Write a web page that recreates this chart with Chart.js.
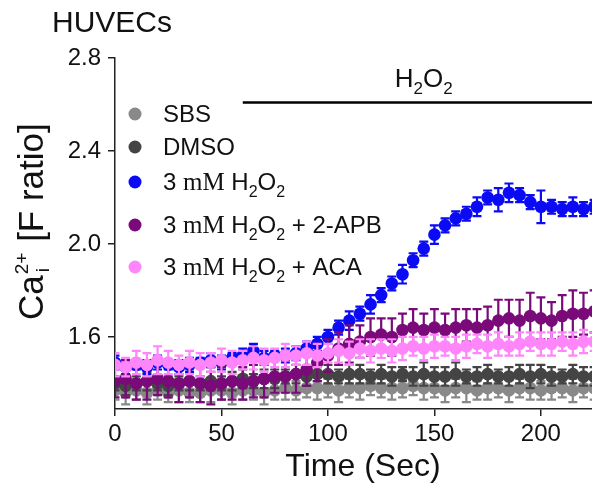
<!DOCTYPE html>
<html>
<head>
<meta charset="utf-8">
<script src="https://cdn.jsdelivr.net/npm/chart.js@4.4.1/dist/chart.umd.min.js"></script>
<style>
  html, body { margin: 0; padding: 0; background: #fff; }
</style>
</head>
<body>
<canvas id="chart" width="592" height="491"></canvas>
<script>
// time points (s)
const time = [0, 5, 10, 15, 20, 25, 30, 35, 40, 45,
  50, 55, 60, 65, 70, 75, 80, 85, 90, 95,
  100, 105, 110, 115, 120, 125, 130, 135, 140, 145,
  150, 155, 160, 165, 170, 175, 180, 185, 190, 195,
  200, 205, 210, 215, 220, 225];

const seriesLabels = ["SBS", "DMSO", "3 mM H₂O₂", "3 mM H₂O₂ + 2-APB", "3 mM H₂O₂ + ACA"];
const seriesColors = ["#898989", "#444444", "#0a0af5", "#7a0a7a", "#ff85fa"];

// mean F ratio
const sbs = [1.37, 1.36, 1.37, 1.36, 1.37, 1.36, 1.37, 1.36, 1.36, 1.37,
  1.37, 1.36, 1.37, 1.37, 1.36, 1.37, 1.38, 1.37, 1.38, 1.38,
  1.38, 1.37, 1.38, 1.38, 1.39, 1.38, 1.38, 1.38, 1.39, 1.38,
  1.38, 1.37, 1.38, 1.38, 1.37, 1.38, 1.38, 1.37, 1.38, 1.38,
  1.37, 1.38, 1.38, 1.37, 1.38, 1.38];
const dmso = [1.40, 1.39, 1.40, 1.41, 1.40, 1.39, 1.40, 1.41, 1.40, 1.41,
  1.40, 1.41, 1.42, 1.41, 1.42, 1.42, 1.43, 1.44, 1.43, 1.44,
  1.44, 1.43, 1.44, 1.44, 1.43, 1.44, 1.43, 1.44, 1.43, 1.44,
  1.43, 1.43, 1.44, 1.43, 1.43, 1.44, 1.43, 1.43, 1.44, 1.43,
  1.44, 1.43, 1.43, 1.44, 1.43, 1.43];
const h2o2 = [1.49, 1.47, 1.48, 1.47, 1.49, 1.48, 1.47, 1.48, 1.49, 1.50,
  1.49, 1.51, 1.52, 1.54, 1.51, 1.52, 1.52, 1.53, 1.55, 1.57,
  1.60, 1.64, 1.67, 1.70, 1.74, 1.78, 1.83, 1.87, 1.93, 1.98,
  2.04, 2.08, 2.11, 2.13, 2.16, 2.20, 2.19, 2.22, 2.21, 2.18,
  2.16, 2.16, 2.15, 2.16, 2.15, 2.16];
const h2o2Apb = [1.41, 1.42, 1.40, 1.41, 1.42, 1.41, 1.40, 1.41, 1.40, 1.39,
  1.40, 1.41, 1.40, 1.41, 1.42, 1.43, 1.43, 1.44, 1.46, 1.49,
  1.52, 1.55, 1.57, 1.58, 1.60, 1.61, 1.60, 1.63, 1.64, 1.63,
  1.64, 1.63, 1.64, 1.65, 1.64, 1.65, 1.67, 1.68, 1.67, 1.69,
  1.68, 1.67, 1.69, 1.70, 1.70, 1.71];
const h2o2Aca = [1.48, 1.47, 1.49, 1.48, 1.50, 1.49, 1.48, 1.49, 1.48, 1.49,
  1.50, 1.49, 1.50, 1.51, 1.50, 1.51, 1.52, 1.52, 1.53, 1.52,
  1.53, 1.54, 1.53, 1.55, 1.54, 1.55, 1.54, 1.55, 1.56, 1.55,
  1.56, 1.56, 1.55, 1.56, 1.57, 1.56, 1.57, 1.56, 1.57, 1.58,
  1.57, 1.57, 1.58, 1.57, 1.58, 1.58];

// SEM
const sbsErr = [0.04, 0.05, 0.04, 0.05, 0.04, 0.04, 0.05, 0.04, 0.04, 0.05,
  0.04, 0.05, 0.04, 0.04, 0.05, 0.04, 0.05, 0.04, 0.04, 0.05,
  0.04, 0.05, 0.04, 0.05, 0.04, 0.04, 0.05, 0.04, 0.04, 0.05,
  0.04, 0.05, 0.04, 0.06, 0.04, 0.05, 0.04, 0.05, 0.04, 0.05,
  0.04, 0.05, 0.04, 0.05, 0.04, 0.05];
const dmsoErr = [0.03, 0.04, 0.03, 0.04, 0.03, 0.04, 0.03, 0.04, 0.03, 0.04,
  0.03, 0.04, 0.04, 0.03, 0.04, 0.04, 0.03, 0.04, 0.04, 0.03,
  0.04, 0.03, 0.04, 0.04, 0.03, 0.04, 0.04, 0.03, 0.04, 0.05,
  0.04, 0.04, 0.05, 0.03, 0.04, 0.04, 0.03, 0.04, 0.04, 0.05,
  0.04, 0.04, 0.03, 0.04, 0.04, 0.04];
const h2o2Err = [0.03, 0.03, 0.02, 0.03, 0.03, 0.02, 0.03, 0.03, 0.02, 0.03,
  0.03, 0.02, 0.03, 0.03, 0.03, 0.02, 0.03, 0.03, 0.03, 0.03,
  0.03, 0.03, 0.04, 0.03, 0.04, 0.03, 0.03, 0.04, 0.03, 0.03,
  0.04, 0.03, 0.03, 0.03, 0.04, 0.03, 0.05, 0.04, 0.03, 0.03,
  0.07, 0.03, 0.03, 0.04, 0.03, 0.03];
const h2o2ApbErr = [0.07, 0.08, 0.07, 0.08, 0.07, 0.07, 0.08, 0.07, 0.08, 0.08,
  0.07, 0.08, 0.07, 0.07, 0.08, 0.07, 0.07, 0.08, 0.07, 0.08,
  0.07, 0.07, 0.08, 0.07, 0.08, 0.07, 0.08, 0.07, 0.08, 0.07,
  0.08, 0.07, 0.08, 0.07, 0.08, 0.08, 0.09, 0.08, 0.09, 0.10,
  0.09, 0.08, 0.09, 0.10, 0.09, 0.09];
const h2o2AcaErr = [0.05, 0.04, 0.05, 0.05, 0.06, 0.05, 0.04, 0.05, 0.05, 0.04,
  0.05, 0.05, 0.04, 0.05, 0.05, 0.04, 0.05, 0.04, 0.05, 0.05,
  0.04, 0.05, 0.05, 0.04, 0.05, 0.04, 0.05, 0.05, 0.04, 0.05,
  0.05, 0.04, 0.05, 0.05, 0.04, 0.05, 0.05, 0.04, 0.05, 0.04,
  0.05, 0.05, 0.04, 0.05, 0.05, 0.04];

const means = [sbs, dmso, h2o2, h2o2Apb, h2o2Aca];
const errors = [sbsErr, dmsoErr, h2o2Err, h2o2ApbErr, h2o2AcaErr];

const xTicks = [0, 50, 100, 150, 200];
const yTicks = [1.6, 2.0, 2.4, 2.8];
const stimStart = 60;      // H2O2 added (s)
const stimLevel = 2.61;    // height of the bar, y units

const SANS = "'Liberation Sans', Arial, sans-serif";
const SERIF = "'Liberation Serif', 'Times New Roman', serif";
Chart.defaults.font.family = SANS;

// draws a list of text pieces one after another
function drawRuns(ctx, x, y, runs) {
  for (const r of runs) {
    ctx.font = r.font;
    ctx.fillText(r.t, x, y + (r.dy || 0));
    x += ctx.measureText(r.t).width;
  }
  return x;
}
function runsWidth(ctx, runs) {
  let w = 0;
  for (const r of runs) { ctx.font = r.font; w += ctx.measureText(r.t).width; }
  return w;
}
// "3 mM H₂O₂ + ACA" -> pieces with serif mM and subscript 2
function labelRuns(label, size) {
  return label.split(/(mM|₂)/).filter(s => s).map(s => {
    if (s === "₂") return { t: "2", font: Math.round(size * 0.66) + "px " + SANS, dy: size * 0.3 };
    if (s === "mM") return { t: "mM", font: (size + 1) + "px " + SERIF };
    return { t: s, font: size + "px " + SANS };
  });
}

const errorBars = {
  id: "errorBars",
  beforeDatasetDraw(chart, args) {
    const { ctx, chartArea, scales: { x, y } } = chart;
    const err = errors[args.index];
    const pts = chart.data.datasets[args.index].data;
    ctx.save();
    ctx.beginPath();
    ctx.rect(chartArea.left, chartArea.top, chartArea.width, chartArea.height);
    ctx.clip();
    ctx.strokeStyle = seriesColors[args.index];
    ctx.lineWidth = 2.2;
    ctx.beginPath();
    pts.forEach((p, i) => {
      const px = x.getPixelForValue(p.x);
      const top = y.getPixelForValue(p.y + err[i]);
      const bot = y.getPixelForValue(p.y - err[i]);
      ctx.moveTo(px, top); ctx.lineTo(px, bot);
      ctx.moveTo(px - 4.5, top); ctx.lineTo(px + 4.5, top);
      ctx.moveTo(px - 4.5, bot); ctx.lineTo(px + 4.5, bot);
    });
    ctx.stroke();
    ctx.restore();
  }
};

const decor = {
  id: "decor",
  afterDraw(chart) {
    const { ctx, chartArea, scales: { x, y } } = chart;
    ctx.save();
    ctx.fillStyle = "#111";
    ctx.textBaseline = "alphabetic";

    // panel title
    ctx.font = "30px " + SANS;
    ctx.fillText("HUVECs", 52, 32);

    // x-axis title
    ctx.font = "32px " + SANS;
    ctx.textAlign = "center";
    ctx.fillText("Time (Sec)", 363, 476);
    ctx.textAlign = "left";

    // stimulus bar + label
    const x0 = x.getPixelForValue(stimStart);
    const yb = Math.round(y.getPixelForValue(stimLevel)) + 0.5;
    ctx.strokeStyle = "#000";
    ctx.lineWidth = 2.5;
    ctx.beginPath();
    ctx.moveTo(x0, yb);
    ctx.lineTo(chartArea.right, yb);
    ctx.stroke();
    const stimRuns = labelRuns("H₂O₂", 26);
    const sw = runsWidth(ctx, stimRuns);
    drawRuns(ctx, x.getPixelForValue(145) - sw / 2, yb - 16, stimRuns);

    // legend
    const rowY = [114, 147, 182, 225, 267];
    seriesLabels.forEach((lab, i) => {
      ctx.fillStyle = seriesColors[i];
      ctx.beginPath();
      ctx.arc(135, rowY[i], 6.5, 0, Math.PI * 2);
      ctx.fill();
      ctx.fillStyle = "#111";
      drawRuns(ctx, 163, rowY[i] + 8, labelRuns(lab, 24));
    });

    // y-axis title, rotated
    ctx.translate(43, 320);
    ctx.rotate(-Math.PI / 2);
    let cx = drawRuns(ctx, 0, 0, [{ t: "Ca", font: "35px " + SANS }]);
    ctx.font = "19px " + SANS;
    const supW = ctx.measureText("2+").width;
    ctx.fillText("2+", cx + 1, -15);
    ctx.fillText("i", cx + 3, 6);
    drawRuns(ctx, cx + supW + 2, 0, [{ t: " [F ratio]", font: "35px " + SANS }]);
    ctx.restore();
  }
};

// pink drawn on top, SBS at the bottom
const drawOrder = [4, 3, 2, 1, 0];

new Chart(document.getElementById("chart"), {
  type: "scatter",
  data: {
    datasets: means.map((vals, i) => ({
      label: seriesLabels[i],
      data: time.map((t, j) => ({ x: t, y: vals[j] })),
      backgroundColor: seriesColors[i],
      borderWidth: 0,
      pointRadius: 6.3,
      showLine: false,
      order: drawOrder[i]
    }))
  },
  options: {
    responsive: false,
    animation: false,
    devicePixelRatio: 1,
    layout: { autoPadding: false, padding: { top: 58, right: 0, bottom: 0, left: 0 } },
    plugins: {
      legend: { display: false },
      tooltip: { enabled: false }
    },
    scales: {
      x: {
        type: "linear",
        min: 0,
        max: 224,
        afterBuildTicks: s => { s.ticks = xTicks.map(v => ({ value: v })); },
        afterFit: s => { s.height = 82; },
        grid: { drawOnChartArea: false, drawTicks: true, tickLength: 7, color: "#222", lineWidth: 1.5 },
        border: { display: true, color: "#222", width: 1.5 },
        ticks: { font: { size: 24 }, color: "#111", padding: 4, maxRotation: 0 },
        title: { display: false, text: "Time (Sec)" }
      },
      y: {
        min: 1.29,
        max: 2.8,
        afterBuildTicks: s => { s.ticks = yTicks.map(v => ({ value: v })); },
        afterFit: s => { s.width = 115; },
        grid: { drawOnChartArea: false, drawTicks: true, tickLength: 7, color: "#222", lineWidth: 1.5 },
        border: { display: true, color: "#222", width: 1.5 },
        ticks: { font: { size: 24 }, color: "#111", padding: 7, callback: v => v.toFixed(1) }
      }
    }
  },
  plugins: [errorBars, decor]
});
</script>
</body>
</html>
